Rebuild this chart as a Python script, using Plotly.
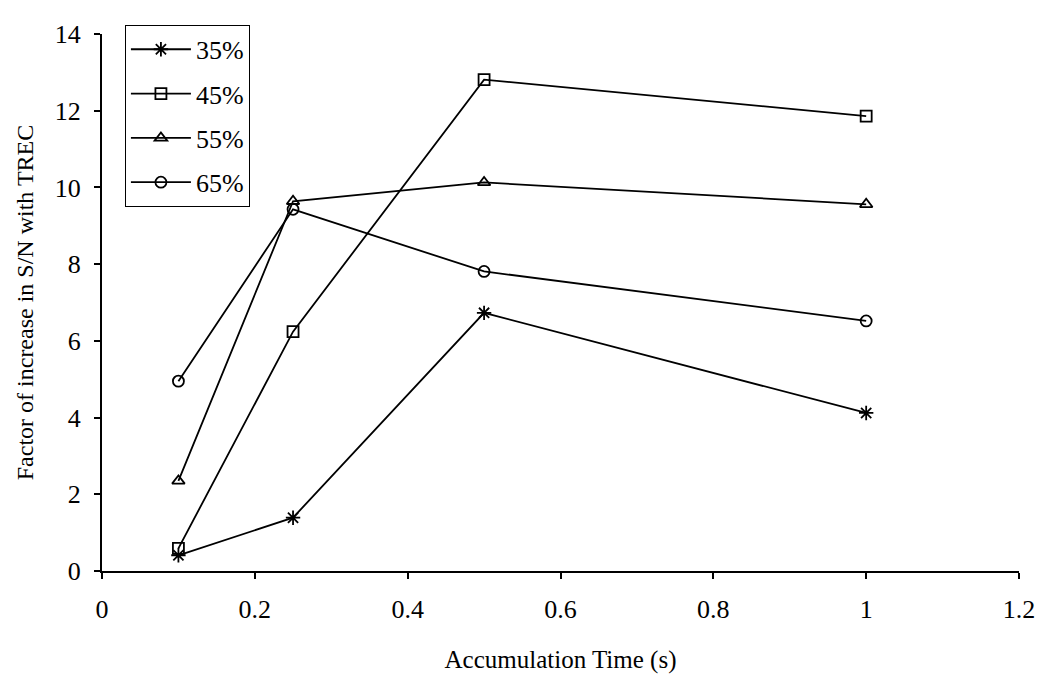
import plotly.graph_objects as go

times = [0.1, 0.25, 0.5, 1.0]
series_names = ["35%", "45%", "55%", "65%"]
s35 = [0.41, 1.39, 6.73, 4.12]
s45 = [0.59, 6.24, 12.81, 11.86]
s55 = [2.35, 9.64, 10.13, 9.56]
s65 = [4.95, 9.43, 7.81, 6.52]
symbols = ["asterisk-open", "square-open", "triangle-up-open", "circle-open"]

fig = go.Figure()
for i, (name, vals, sym) in enumerate(zip(series_names, [s35, s45, s55, s65], symbols)):
    fig.add_trace(go.Scatter(
        x=times, y=vals, name=name, mode="lines+markers",
        line=dict(color="black", width=1.8),
        marker=dict(symbol=sym, size=11 if i != 0 else 12, color="black",
                    line=dict(color="black", width=1.8)),
        legendgroup=name,
    ))

font_family = "Liberation Serif, Times New Roman, serif"
fig.update_layout(
    width=1050, height=682,
    margin=dict(l=94, r=39, t=20, b=119),
    paper_bgcolor="white", plot_bgcolor="white",
    font=dict(family=font_family, size=26, color="black"),
    showlegend=True,
    legend=dict(
        x=0.025, y=1.017, xanchor="left", yanchor="top",
        bordercolor="black", borderwidth=1, bgcolor="white",
        font=dict(family=font_family, size=26),
        tracegroupgap=7.5, itemwidth=60,
    ),
    xaxis=dict(
        range=[0, 1.2], tickvals=[0, 0.2, 0.4, 0.6, 0.8, 1, 1.2],
        ticktext=["0", "0.2", "0.4", "0.6", "0.8", "1", "1.2"],
        showgrid=False, zeroline=False, showline=True, linecolor="black", linewidth=2,
        ticks="outside", ticklen=6, tickwidth=2, tickcolor="black",
        ticklabelstandoff=8,
        title=dict(text="Accumulation Time (s)", font=dict(size=25), standoff=27),
    ),
    yaxis=dict(
        range=[0, 14], tickvals=[0, 2, 4, 6, 8, 10, 12, 14],
        showgrid=False, zeroline=False, showline=True, linecolor="black", linewidth=2,
        ticks="outside", ticklen=6, tickwidth=2, tickcolor="black",
        ticklabelstandoff=8,
        title=dict(text="Factor of increase in S/N with TREC", font=dict(size=24), standoff=14),
    ),
)

fig.write_html("out.html")
